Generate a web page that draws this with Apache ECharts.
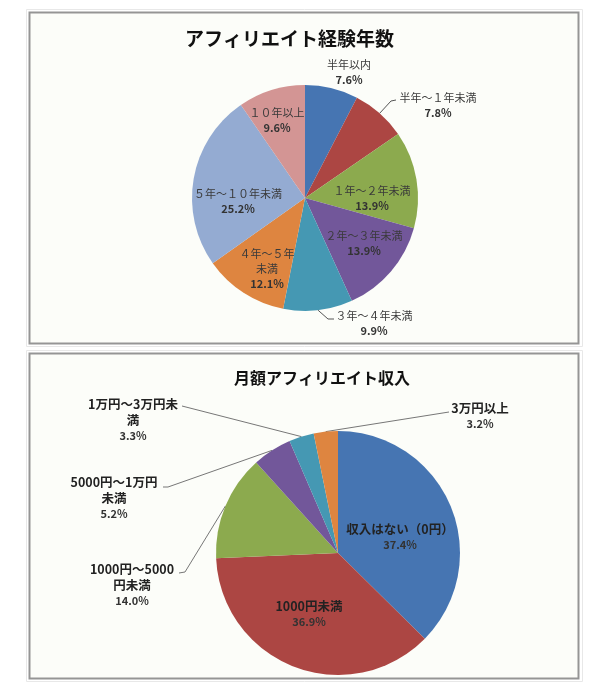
<!DOCTYPE html>
<html>
<head>
<meta charset="utf-8">
<script src="https://cdn.jsdelivr.net/npm/echarts@6/dist/echarts.min.js"></script>
<style>
html,body{margin:0;padding:0;background:#fff;}
#chart{width:615px;height:688px;}
</style>
</head>
<body>
<div id="chart"></div>
<script>
// ---- data ----
const topTitle = 'アフィリエイト経験年数';
const topCategories = ['半年以内', '半年～１年未満', '１年～２年未満', '２年～３年未満', '３年～４年未満', '４年～５年未満', '５年～１０年未満', '１０年以上'];
const topValues = [7.6, 7.8, 13.9, 13.9, 9.9, 12.1, 25.2, 9.6];
const topLabelNames = ['半年以内', '半年～１年未満', '１年～２年未満', '２年～３年未満', '３年～４年未満', '４年～５年\n未満', '５年～１０年未満', '１０年以上'];

const botTitle = '月額アフィリエイト収入';
const botCategories = ['収入はない（0円）', '1000円未満', '1000円～5000円未満', '5000円～1万円未満', '1万円～3万円未満', '3万円以上'];
const botValues = [37.4, 36.9, 14.0, 5.2, 3.3, 3.2];
const botLabelNames = ['収入はない（0円）', '1000円未満', '1000円～5000\n円未満', '5000円～1万円\n未満', '1万円～3万円未\n満', '3万円以上'];

// ---- layout / style ----
const topColors = ['#4675B2', '#AC4643', '#8CAA4E', '#72579A', '#4598B3', '#DE8540', '#94ABD2', '#D39594'];
const botColors = ['#4675B2', '#AC4643', '#8CAA4E', '#72579A', '#4598B3', '#DE8540'];
const topCenter = [305, 198], topR = 113;
const botCenter = [338, 553], botR = 122;
// label centre offsets from pie centre
const topLabelPos = [[44, -126], [133, -93], [67, 0], [59, 45], [69, 125], [-38, 71], [-67, 3], [-28, -78]];
const topOutside = [true, true, false, false, true, false, false, false];
const topLines = [null, [[86, -97], [91, -98]], null, null, [[23, 121], [29, 121]], null, null, null];
const botLabelPos = [[62, -16], [-29, 61], [-206, 32], [-224, -55], [-205, -133], [142, -137]];
const botOutside = [false, false, true, true, true, true];
const botLines = [null, null, [[-153, 19], [-159, 20]], [[-170, -66], [-175, -66]], [[-156, -147]], [[111, -141]]];

function edgePoint(values, i, center, r) {
  const total = values.reduce((a, b) => a + b, 0);
  let before = 0;
  for (let k = 0; k < i; k++) before += values[k];
  const mid = (before + values[i] / 2) / total * Math.PI * 2;
  return [center[0] + r * Math.sin(mid), center[1] - r * Math.cos(mid)];
}

function makeLayout(values, center, r, pos, lines) {
  return function (params) {
    const i = params.dataIndex;
    const out = {
      x: center[0] + pos[i][0],
      y: center[1] + pos[i][1],
      align: 'center',
      verticalAlign: 'middle'
    };
    if (lines[i]) {
      out.labelLinePoints = [edgePoint(values, i, center, r)].concat(
        lines[i].map(q => [center[0] + q[0], center[1] + q[1]])
      );
    }
    return out;
  };
}

function buildData(cats, vals, outside, lines) {
  return cats.map((c, i) => ({
    name: c,
    value: vals[i],
    label: { position: outside[i] ? 'outside' : 'inside' },
    labelLine: { show: !!lines[i] }
  }));
}

const chart = echarts.init(document.getElementById('chart'), null, { renderer: 'canvas' });
const FONT = '"Noto Sans CJK JP", "Noto Sans", sans-serif';

chart.setOption({
  animation: false,
  backgroundColor: '#ffffff',
  graphic: [
    { type: 'rect', z: -10, shape: { x: 26.5, y: 9.5, width: 556, height: 337 }, style: { fill: '#ffffff', stroke: '#e8e8e8', lineWidth: 1 } },
    { type: 'rect', z: -9, shape: { x: 29.5, y: 12.5, width: 549, height: 331 }, style: { fill: '#fcfdf9', stroke: '#959595', lineWidth: 2 } },
    { type: 'rect', z: -10, shape: { x: 26.5, y: 350.5, width: 556, height: 331 }, style: { fill: '#ffffff', stroke: '#e8e8e8', lineWidth: 1 } },
    { type: 'rect', z: -9, shape: { x: 29.5, y: 353.5, width: 549, height: 325 }, style: { fill: '#fcfdf9', stroke: '#959595', lineWidth: 2 } }
  ],
  title: [
    { text: topTitle, left: 180, top: 24, textStyle: { fontFamily: FONT, fontSize: 19, fontWeight: 'bold', color: '#111' } },
    { text: botTitle, left: 229, top: 365, textStyle: { fontFamily: FONT, fontSize: 16, fontWeight: 'bold', color: '#111' } }
  ],
  series: [
    {
      type: 'pie',
      center: topCenter,
      radius: topR,
      startAngle: 90,
      clockwise: true,
      avoidLabelOverlap: false,
      color: topColors,
      itemStyle: { borderWidth: 0 },
      emphasis: { disabled: true },
      label: {
        fontFamily: FONT,
        color: '#3a3a3a',
        formatter: p => '{n|' + topLabelNames[p.dataIndex] + '}\n{v|' + p.value.toFixed(1) + '%}',
        rich: {
          n: { fontFamily: FONT, fontSize: 11, color: '#3a3a3a', lineHeight: 15 },
          v: { fontFamily: FONT, fontSize: 11, fontWeight: 'bold', color: '#333', lineHeight: 15 }
        }
      },
      labelLine: { lineStyle: { color: '#555', width: 1 } },
      labelLayout: makeLayout(topValues, topCenter, topR, topLabelPos, topLines),
      data: buildData(topCategories, topValues, topOutside, topLines)
    },
    {
      type: 'pie',
      center: botCenter,
      radius: botR,
      startAngle: 90,
      clockwise: true,
      avoidLabelOverlap: false,
      color: botColors,
      itemStyle: { borderWidth: 0 },
      emphasis: { disabled: true },
      label: {
        fontFamily: FONT,
        color: '#222',
        formatter: p => '{n|' + botLabelNames[p.dataIndex] + '}\n{v|' + p.value.toFixed(1) + '%}',
        rich: {
          n: { fontFamily: FONT, fontSize: 12.5, fontWeight: 'bold', color: '#222', lineHeight: 16 },
          v: { fontFamily: FONT, fontSize: 11, fontWeight: 'bold', color: '#333', lineHeight: 16 }
        }
      },
      labelLine: { lineStyle: { color: '#777', width: 1 } },
      labelLayout: makeLayout(botValues, botCenter, botR, botLabelPos, botLines),
      data: buildData(botCategories, botValues, botOutside, botLines)
    }
  ]
});
</script>
</body>
</html>
